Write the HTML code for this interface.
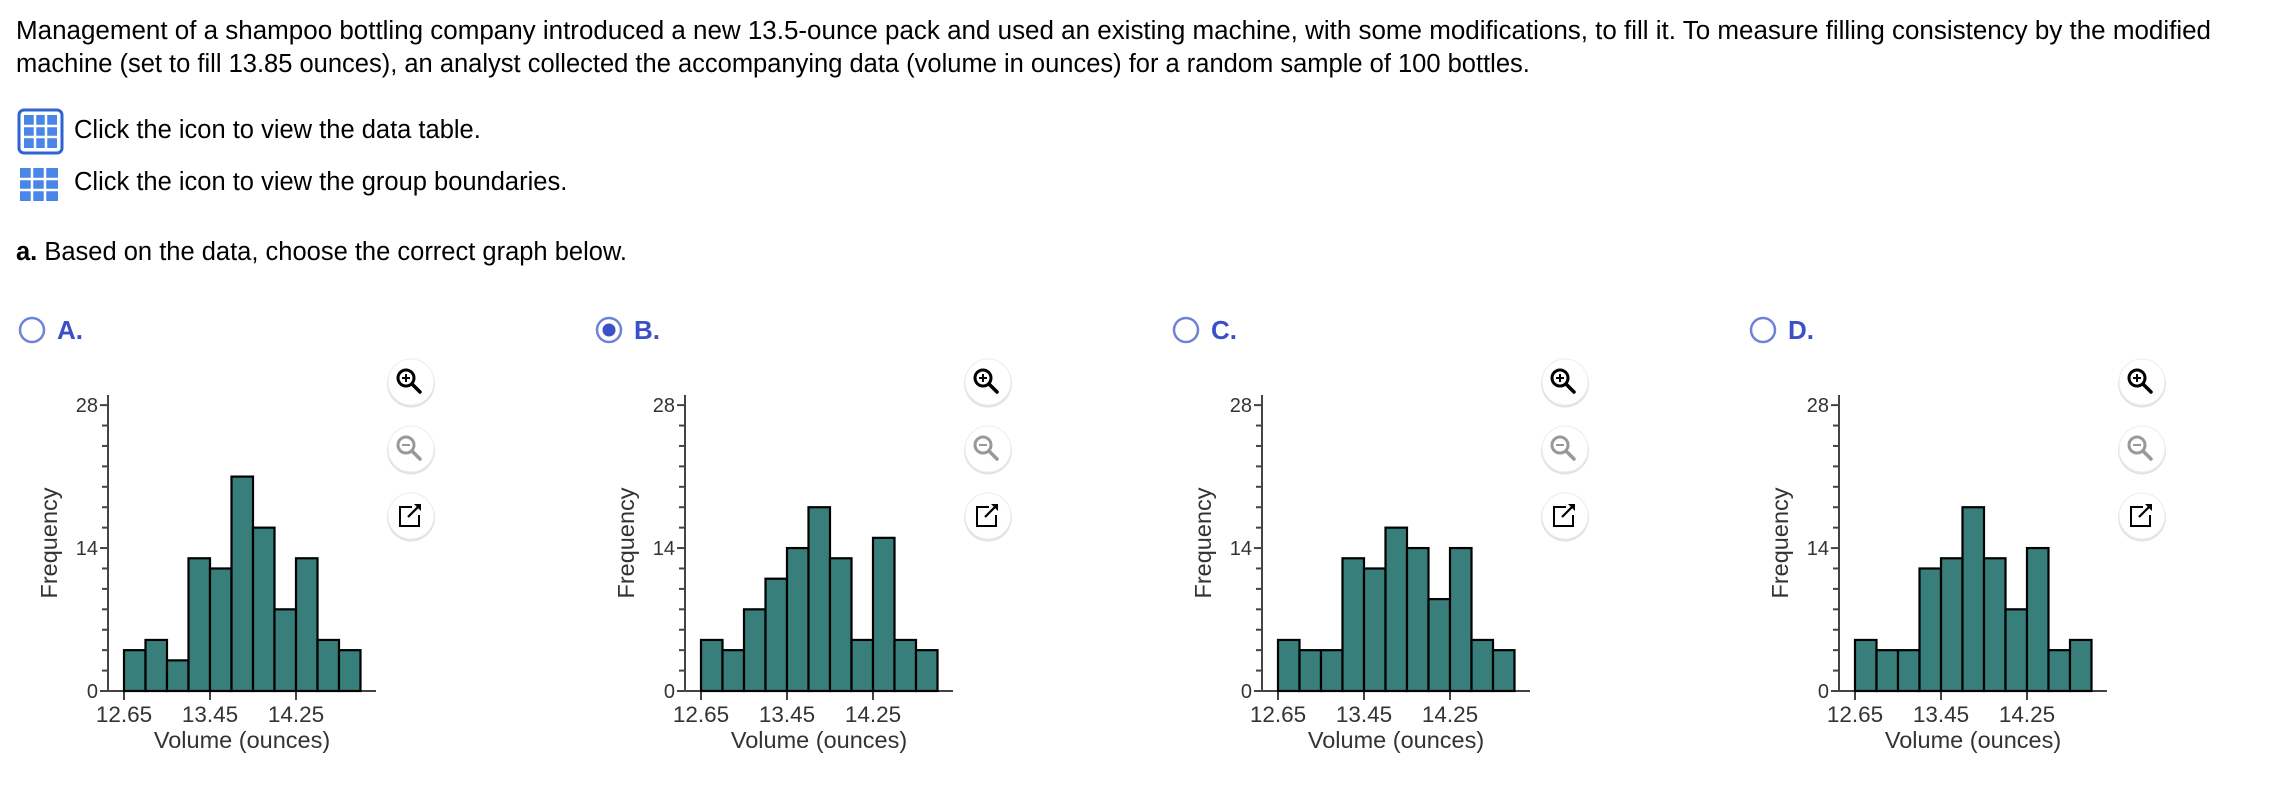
<!DOCTYPE html>
<html><head><meta charset="utf-8"><style>
html,body{margin:0;padding:0;background:#fff;width:2290px;height:806px;overflow:hidden}
svg{display:block;font-family:"Liberation Sans",Arial,sans-serif}
</style></head><body>
<svg id="page" width="2290" height="806" viewBox="0 0 2290 806" xmlns="http://www.w3.org/2000/svg">
<g font-size="25.5" fill="#000">
<text x="16" y="39" textLength="2195" lengthAdjust="spacingAndGlyphs">Management of a shampoo bottling company introduced a new 13.5-ounce pack and used an existing machine, with some modifications, to fill it. To measure filling consistency by the modified</text>
<text x="16" y="72">machine (set to fill 13.85 ounces), an analyst collected the accompanying data (volume in ounces) for a random sample of 100 bottles.</text>
</g>
<g>
<rect x="19" y="110" width="43" height="43" rx="5" fill="#fff" stroke="#2f63d0" stroke-width="3"/>
<rect x="24" y="115" width="33" height="33" fill="#4a86e8"/>
<g stroke="#fff" stroke-width="2.5"><line x1="24" y1="126" x2="57" y2="126"/><line x1="24" y1="137" x2="57" y2="137"/><line x1="35" y1="115" x2="35" y2="148"/><line x1="46" y1="115" x2="46" y2="148"/></g>
<text x="74" y="138" font-size="25.5">Click the icon to view the data table.</text>
</g>
<g>
<rect x="20" y="168" width="38" height="33" fill="#4a86e8"/>
<g stroke="#fff" stroke-width="2.5"><line x1="20" y1="179" x2="58" y2="179"/><line x1="20" y1="190" x2="58" y2="190"/><line x1="32" y1="168" x2="32" y2="201"/><line x1="45" y1="168" x2="45" y2="201"/></g>
<text x="74" y="190" font-size="25.5">Click the icon to view the group boundaries.</text>
</g>
<text x="16" y="260" font-size="25.5"><tspan font-weight="bold">a.</tspan> Based on the data, choose the correct graph below.</text>
<g id="charts"></g>
</svg>
<script>
const binStarts = [12.65,12.85,13.05,13.25,13.45,13.65,13.85,14.05,14.25,14.45,14.65];
const optionLabels = ['A.','B.','C.','D.'];
const freqA = [4,5,3,13,12,21,16,8,13,5,4];
const freqB = [5,4,8,11,14,18,13,5,15,5,4];
const freqC = [5,4,4,13,12,16,14,9,14,5,4];
const freqD = [5,4,4,12,13,18,13,8,14,4,5];
const yTicks = [0,14,28];
const xTicks = ['12.65','13.45','14.25'];
const binWidth = 0.2;
const allFreq = [freqA,freqB,freqC,freqD];
const selected = 1;
const NS='http://www.w3.org/2000/svg';
const root=document.getElementById('charts');
function mk(tag,attrs,parent){const e=document.createElementNS(NS,tag);for(const k in attrs)e.setAttribute(k,attrs[k]);parent.appendChild(e);return e;}
allFreq.forEach((freq,ci)=>{
  const off=ci*577;
  const g=mk('g',{transform:'translate('+off+',0)'},root);
  
  
  const x=v=>124+(v-12.65)*107.5;
  const y=f=>691-f*10.21;
  const rg=mk('g',{},g);
  
  
  mk('circle',{cx:32,cy:330,r:12,fill:'#fff',stroke:'#6e83d8','stroke-width':2.5},rg);
  if(ci===selected) mk('circle',{cx:32,cy:330,r:6.5,fill:'#3a4fc8'},rg);
  const lt=mk('text',{x:57,y:339,'font-size':26,'font-weight':'bold',fill:'#3a4fc8'},rg);
  lt.textContent=optionLabels[ci];
  mk('line',{x1:108,y1:395,x2:108,y2:692,stroke:'#444','stroke-width':2},g);
  mk('line',{x1:107,y1:691,x2:376,y2:691,stroke:'#444','stroke-width':2},g);
  for(let t=0;t<=28;t+=2){mk('line',{x1:t%14===0?100:102,y1:y(t),x2:108,y2:y(t),stroke:'#444','stroke-width':2},g);}
  yTicks.forEach(t=>{const tx=mk('text',{x:98,y:y(t)+7,'font-size':20,'text-anchor':'end',fill:'#333'},g);tx.textContent=t;});
  xTicks.forEach(t=>{const v=parseFloat(t);mk('line',{x1:x(v),y1:691,x2:x(v),y2:700,stroke:'#444','stroke-width':2},g);const tx=mk('text',{x:x(v),y:722,'font-size':22.5,'text-anchor':'middle',fill:'#333'},g);tx.textContent=t;});
  freq.forEach((f,i)=>{const r=mk('rect',{x:x(binStarts[i]),y:y(f),width:x(binStarts[i]+binWidth)-x(binStarts[i]),height:691-y(f),fill:'#387f7b',stroke:'#000','stroke-width':2.2},g);});
  const yt=mk('text',{x:0,y:0,'font-size':23.5,'text-anchor':'middle',fill:'#333',transform:'translate(57,543) rotate(-90)'},g);
  yt.textContent='Frequency';
  const xt=mk('text',{x:242,y:748,'font-size':23.5,'text-anchor':'middle',fill:'#333'},g);
  xt.textContent='Volume (ounces)';
  const names=['zoom-in-button','zoom-out-button','open-popout-button'];
  [382,449,516].forEach((cy,bi)=>{
    const b=mk('g',{},g);
    mk('circle',{cx:411,cy:cy+1.5,r:24,fill:'#e2e2e2'},b);
    mk('circle',{cx:411,cy:cy,r:23,fill:'#fff',stroke:'#ececec','stroke-width':1},b);
    const col=bi===1?'#999':'#000';
    if(bi<2){
      mk('circle',{cx:406,cy:cy-4,r:8,fill:'none',stroke:col,'stroke-width':3},b);
      mk('line',{x1:412,y1:cy+2,x2:420,y2:cy+10,stroke:col,'stroke-width':3.5,'stroke-linecap':'round'},b);
      mk('line',{x1:402,y1:cy-4,x2:410,y2:cy-4,stroke:col,'stroke-width':2},b);
      if(bi===0) mk('line',{x1:406,y1:cy-8,x2:406,y2:cy,stroke:col,'stroke-width':2},b);
    } else {
      mk('path',{d:'M412 '+(cy-9)+' H400 V'+(cy+10)+' H419 V'+(cy-1),fill:'none',stroke:'#000','stroke-width':2},b);
      mk('line',{x1:408,y1:cy+1,x2:420,y2:cy-11,stroke:'#000','stroke-width':2.2},b);
      mk('path',{d:'M414 '+(cy-12)+' H421 V'+(cy-5)+' Z',fill:'#000'},b);
    }
  });
});
</script>
</body></html>
